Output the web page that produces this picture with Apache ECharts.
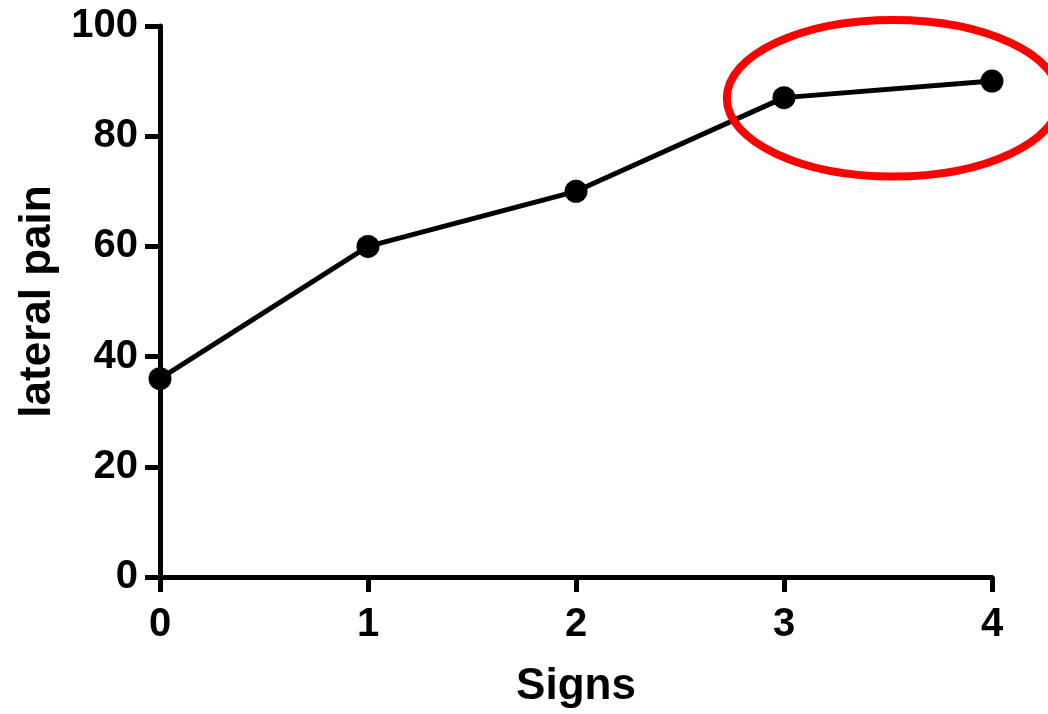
<!DOCTYPE html>
<html>
<head>
<meta charset="utf-8">
<title>lateral pain by signs</title>
<script src="https://cdn.jsdelivr.net/npm/echarts@6/dist/echarts.min.js"></script>
<style>
  html, body { margin: 0; padding: 0; background: #fff; }
  #chart { width: 1048px; height: 714px; }
</style>
</head>
<body>
<div id="chart"></div>
<script>
// Number of signs and the mean lateral pain score at each
const signs = [0, 1, 2, 3, 4];
const lateralPain = [36, 60, 70, 87, 90];
const yTicks = [0, 20, 40, 60, 80, 100];
const xTicks = [0, 1, 2, 3, 4];

// Highlight ring around the plateau, in data units (centre x/y, radius x/y)
const highlight = { cx: 3.525, cy: 86.9, rx: 0.8, ry: 14.2 };

const FONT = '"Liberation Sans", Arial, Helvetica, sans-serif';
const INK = '#000';

const chart = echarts.init(document.getElementById('chart'), null, { renderer: 'canvas' });

function axisBase(labelMargin) {
  return {
    axisLine: { show: true, onZero: false, lineStyle: { color: INK, width: 5 } },
    axisTick: { show: true, inside: false, length: 15, lineStyle: { color: INK, width: 5 } },
    splitLine: { show: false },
    axisLabel: { show: true, color: INK, fontFamily: FONT, fontWeight: 'bold', fontSize: 40, margin: labelMargin },
    nameTextStyle: { color: INK, fontFamily: FONT, fontWeight: 'bold', fontSize: 44 }
  };
}

chart.setOption({
  animation: false,
  backgroundColor: '#fff',
  grid: { left: 160, right: 56, top: 26, bottom: 137, containLabel: false },
  xAxis: Object.assign(axisBase(28), {
    type: 'value',
    min: xTicks[0],
    max: xTicks[xTicks.length - 1],
    interval: 1,
    name: 'Signs',
    nameLocation: 'middle',
    nameGap: 88
  }),
  yAxis: Object.assign(axisBase(22), {
    type: 'value',
    min: yTicks[0],
    max: yTicks[yTicks.length - 1],
    interval: 20,
    name: 'lateral pain',
    nameLocation: 'middle',
    nameGap: 100
  }),
  series: [{
    type: 'line',
    data: signs.map((s, i) => [s, lateralPain[i]]),
    symbol: 'circle',
    symbolSize: 23,
    showSymbol: true,
    lineStyle: { color: INK, width: 5 },
    itemStyle: { color: INK },
    clip: false,
    z: 3
  }]
});

// Place the red ring using the chart's own scales
function drawHighlight() {
  const c = chart.convertToPixel({ gridIndex: 0 }, [highlight.cx, highlight.cy]);
  const ex = chart.convertToPixel({ gridIndex: 0 }, [highlight.cx + highlight.rx, highlight.cy + highlight.ry]);
  chart.setOption({
    graphic: [{
      type: 'ellipse',
      shape: { cx: c[0], cy: c[1], rx: Math.abs(ex[0] - c[0]), ry: Math.abs(c[1] - ex[1]) },
      style: { fill: 'none', stroke: '#ff0000', lineWidth: 8 },
      z: 10
    }]
  });
}
drawHighlight();
</script>
</body>
</html>
